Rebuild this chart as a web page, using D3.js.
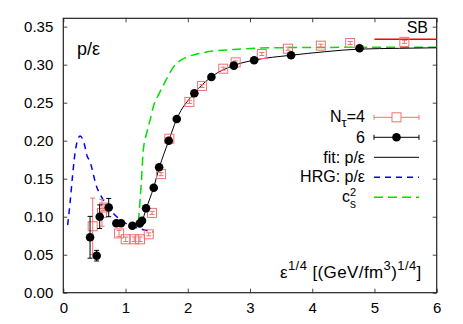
<!DOCTYPE html>
<html><head><meta charset="utf-8">
<script src="https://cdn.jsdelivr.net/npm/d3@7"></script>
<style>body{margin:0;background:#fff}text{font-family:"Liberation Sans",Arial,sans-serif}</style>
</head><body><svg id="c" width="463" height="324"></svg>
<script>
// Nτ=4 (red squares)
const n4X   = [0.472,0.622,0.654,0.896,1.003,1.14,1.233,1.373,1.426,1.571,1.704,2.026,2.23,2.57,2.77,3.19,3.61,4.138,4.61,5.48];
const n4Y   = [0.0874,0.105,0.112,0.078,0.0703,0.0703,0.0703,0.0768,0.105,0.156,0.2026,0.251,0.272,0.2947,0.303,0.314,0.321,0.325,0.3285,0.330];
const n4Err = [0.037,0.0175,0.004,0.004,0.003,0.003,0.003,0.002,0.002,0.002,0.002,0.002,0.002,0.002,0.002,0.002,0.002,0.002,0.002,0.002];
// Nτ=6 (black dots)
const n6X   = [0.43,0.536,0.585,0.73,0.853,0.928,1.11,1.228,1.265,1.33,1.453,1.54,1.694,1.823,2.106,2.38,2.74,3.066,3.66,4.76];
const n6Y   = [0.0729,0.0487,0.100,0.112,0.0913,0.0913,0.088,0.091,0.0947,0.111,0.138,0.165,0.200,0.2286,0.2624,0.2838,0.2987,0.3058,0.3124,0.3216];
const n6Err = [0.0275,0.007,0.0155,0.012,0.002,0.002,0.002,0.002,0.002,0.002,0.002,0.002,0.002,0.002,0.002,0.002,0.002,0.002,0.002,0.002];
// fit p/ε
const fitX = [1.2,1.265,1.33,1.45,1.54,1.69,1.82,2.1,2.38,2.74,3.07,3.66,4.2,4.76,5.4,6.0];
const fitY = [0.087,0.094,0.110,0.138,0.164,0.199,0.228,0.262,0.284,0.299,0.306,0.3124,0.317,0.3205,0.3215,0.3222];
// HRG p/ε
const hrgX = [0.07,0.108,0.15,0.2,0.27,0.33,0.386,0.418,0.536,0.643,0.804,1.02,1.233,1.447];
const hrgY = [0.089,0.1176,0.155,0.19,0.206,0.198,0.179,0.1746,0.1395,0.122,0.1045,0.0904,0.0842,0.0799];
// c_s^2
const csX = [1.207,1.25,1.286,1.34,1.394,1.447,1.54,1.608,1.823,2.2,2.73,3.54,4.5,6.0];
const csY = [0.0934,0.14,0.1878,0.21,0.227,0.245,0.262,0.273,0.302,0.315,0.320,0.3224,0.3228,0.323];
// SB limit
const sbX = [5,6]; const sbY = [1/3,1/3];
const xTicks = [0,1,2,3,4,5,6];
const yTicks = [0,0.05,0.10,0.15,0.20,0.25,0.30,0.35];

const svg = d3.select("#c");
const L=63.3,R=436.7,T=18.3,B=292.7;
const x = d3.scaleLinear().domain([0,6]).range([L,R]);
const y = d3.scaleLinear().domain([0,0.361]).range([B,T]);
const fs = 15, lfs = 16;

// axes
const ax = (g,a)=>{g.call(a);g.select(".domain").remove();g.selectAll("line").attr("stroke","#444");g.selectAll("text").attr("font-size",fs).attr("fill","#000").attr("font-family","Liberation Sans,Arial");};
svg.append("g").attr("transform",`translate(0,${B})`).call(g=>ax(g,d3.axisBottom(x).tickValues(xTicks).tickFormat(d3.format("d")).tickSizeInner(-4).tickSizeOuter(0).tickPadding(10)));
svg.append("g").attr("transform",`translate(0,${T})`).call(g=>ax(g,d3.axisTop(x).tickValues(xTicks).tickFormat("").tickSizeInner(-4).tickSizeOuter(0)));
svg.append("g").attr("transform",`translate(${L},0)`).call(g=>ax(g,d3.axisLeft(y).tickValues(yTicks).tickFormat(d3.format(".2f")).tickSizeInner(-4).tickSizeOuter(0).tickPadding(10)));
svg.append("g").attr("transform",`translate(${R},0)`).call(g=>ax(g,d3.axisRight(y).tickValues(yTicks).tickFormat("").tickSizeInner(-4).tickSizeOuter(0)));
svg.append("rect").attr("x",L).attr("y",T).attr("width",R-L).attr("height",B-T).attr("fill","none").attr("stroke","#222").attr("stroke-width",1.2);

const line = d3.line().x(d=>x(d[0])).y(d=>y(d[1]));
const lineC = d3.line().x(d=>x(d[0])).y(d=>y(d[1])).curve(d3.curveMonotoneX);
const plot = svg.append("g");
plot.append("path").attr("d",lineC(d3.zip(hrgX,hrgY))).attr("fill","none").attr("stroke","#0000ff").attr("stroke-width",1.5).attr("stroke-dasharray","6,5");
plot.append("path").attr("d",lineC(d3.zip(csX,csY))).attr("fill","none").attr("stroke","#00e000").attr("stroke-width",1.5).attr("stroke-dasharray","9,5");
plot.append("path").attr("d",line(d3.zip(sbX,sbY))).attr("fill","none").attr("stroke","#ff0000").attr("stroke-width",1.5);
plot.append("path").attr("d",lineC(d3.zip(fitX,fitY))).attr("fill","none").attr("stroke","#000").attr("stroke-width",1);

// error bars helper
function errbars(g,X,Y,E,col){
  X.forEach((xv,i)=>{
    const x0=x(xv),y1=y(Y[i]-E[i]),y2=y(Y[i]+E[i]);
    g.append("line").attr("x1",x0).attr("x2",x0).attr("y1",y1).attr("y2",y2).attr("stroke",col).attr("stroke-width",1);
    [y1,y2].forEach(yy=>g.append("line").attr("x1",x0-2.5).attr("x2",x0+2.5).attr("y1",yy).attr("y2",yy).attr("stroke",col).attr("stroke-width",1));
  });
}
const red="#f47070";
const g4=svg.append("g");
errbars(g4,n4X,n4Y,n4Err,red);
n4X.forEach((xv,i)=>g4.append("rect").attr("x",x(xv)-4.5).attr("y",y(n4Y[i])-4.5).attr("width",9).attr("height",9).attr("fill","none").attr("stroke",red).attr("stroke-width",1));
const g6=svg.append("g");
errbars(g6,n6X,n6Y,n6Err,"#000");
n6X.forEach((xv,i)=>g6.append("circle").attr("cx",x(xv)).attr("cy",y(n6Y[i])).attr("r",4.3).attr("fill","#000"));

// labels
svg.append("text").attr("x",77).attr("y",55).attr("font-size",18).text("p/ε");
svg.append("text").attr("x",428).attr("y",33).attr("font-size",16).attr("text-anchor","end").text("SB");
const xl=svg.append("text").attr("x",280).attr("y",277.5).attr("font-size",17).attr("letter-spacing",0.4);
xl.append("tspan").text("ε");
xl.append("tspan").attr("dy",-8).attr("font-size",13).text("1/4");
xl.append("tspan").attr("dy",8).text(" [(GeV/fm");
xl.append("tspan").attr("dy",-8).attr("font-size",13).text("3");
xl.append("tspan").attr("dy",8).text(")");
xl.append("tspan").attr("dy",-8).attr("font-size",13).text("1/4");
xl.append("tspan").attr("dy",8).text("]");

// legend
const lx1=374,lx2=419,tx=365;
const ly=[117.3,137.3,157.3,177.3,197.3];
function legErr(yy,col){
  svg.append("line").attr("x1",lx1).attr("x2",lx2).attr("y1",yy).attr("y2",yy).attr("stroke",col);
  [lx1,lx2].forEach(xx=>svg.append("line").attr("x1",xx).attr("x2",xx).attr("y1",yy-2.5).attr("y2",yy+2.5).attr("stroke",col));
}
legErr(ly[0],red);
svg.append("rect").attr("x",(lx1+lx2)/2-4.5).attr("y",ly[0]-4.5).attr("width",9).attr("height",9).attr("fill","#fff").attr("stroke",red);
legErr(ly[1],"#000");
svg.append("circle").attr("cx",(lx1+lx2)/2).attr("cy",ly[1]).attr("r",4.3).attr("fill","#000");
svg.append("line").attr("x1",lx1).attr("x2",lx2).attr("y1",ly[2]).attr("y2",ly[2]).attr("stroke","#000");
svg.append("line").attr("x1",lx1).attr("x2",lx2).attr("y1",ly[3]).attr("y2",ly[3]).attr("stroke","#0000ff").attr("stroke-width",1.5).attr("stroke-dasharray","6,5");
svg.append("line").attr("x1",lx1).attr("x2",lx2).attr("y1",ly[4]).attr("y2",ly[4]).attr("stroke","#00e000").attr("stroke-width",1.5).attr("stroke-dasharray","9,5");
const t0=svg.append("text").attr("x",tx).attr("y",ly[0]+5).attr("font-size",lfs).attr("text-anchor","end");
t0.append("tspan").text("N");t0.append("tspan").attr("dy",5).attr("font-size",13).text("τ");t0.append("tspan").attr("dy",-5).text("=4");
svg.append("text").attr("x",tx).attr("y",ly[1]+5.5).attr("font-size",lfs).attr("text-anchor","end").text("6");
svg.append("text").attr("x",tx).attr("y",ly[2]+5.5).attr("font-size",lfs).attr("text-anchor","end").text("fit: p/ε");
svg.append("text").attr("x",tx).attr("y",ly[3]+5).attr("font-size",lfs).attr("text-anchor","end").text("HRG: p/ε");
svg.append("text").attr("x",342).attr("y",ly[4]+5).attr("font-size",lfs).text("c");
svg.append("text").attr("x",350).attr("y",ly[4]-1.5).attr("font-size",11).text("2");
svg.append("text").attr("x",350).attr("y",ly[4]+11).attr("font-size",12).text("s");
</script></body></html>
